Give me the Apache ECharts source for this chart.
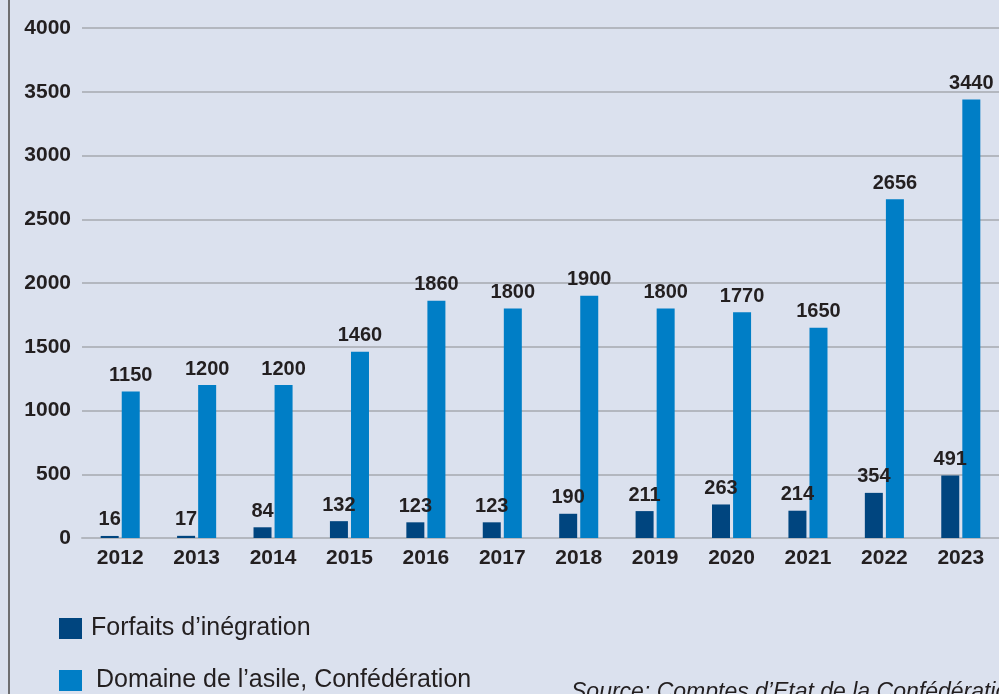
<!DOCTYPE html>
<html>
<head>
<meta charset="utf-8">
<script src="https://cdn.jsdelivr.net/npm/echarts@6/dist/echarts.min.js"></script>
<style>
  html, body { margin: 0; padding: 0; background: #dbe1ee; }
  #chart { width: 999px; height: 694px; }
</style>
</head>
<body>
<div id="chart"></div>
<script>
// données
const years = ['2012', '2013', '2014', '2015', '2016', '2017', '2018', '2019', '2020', '2021', '2022', '2023']
const forfaits = [16, 17, 84, 132, 123, 123, 190, 211, 263, 214, 354, 491]
const asile = [1150, 1200, 1200, 1460, 1860, 1800, 1900, 1800, 1770, 1650, 2656, 3440]
const forfaitsName = 'Forfaits d’inégration'
const asileName = 'Domaine de l’asile, Confédération'
const sourceText = 'Source: Comptes d’Etat de la Confédération'

const font = 'Liberation Sans, Arial, Helvetica, sans-serif'
const ink = '#231f20'

const chart = echarts.init(document.getElementById('chart'))

const labelStyle = {
  show: true,
  position: 'top',
  distance: 6,
  color: ink,
  fontFamily: font,
  fontWeight: 'bold',
  fontSize: 20,
}

// une légende par ligne
function legendRow(name, top, textPad) {
  return {
    left: 59,
    top: top,
    padding: 0,
    itemWidth: 23,
    itemHeight: 21,
    icon: 'rect',
    textStyle: { color: ink, fontFamily: font, fontSize: 25, lineHeight: 21, padding: [0, 0, 0, textPad] },
    data: [name],
  }
}

chart.setOption({
  backgroundColor: '#dbe1ee',
  animation: false,
  grid: { left: 82, right: -1, top: 28, bottom: 156 },
  legend: [
    legendRow(forfaitsName, 616, 4),
    legendRow(asileName, 668, 9),
  ],
  xAxis: {
    type: 'category',
    data: years,
    axisLine: { lineStyle: { color: '#b3b7bf', width: 2 } },
    axisTick: { show: false },
    axisLabel: { color: ink, fontFamily: font, fontWeight: 'bold', fontSize: 21, margin: 10 },
  },
  yAxis: {
    type: 'value',
    min: 0,
    max: 4000,
    interval: 500,
    axisLine: { show: false },
    axisTick: { show: false },
    axisLabel: {
      color: ink, fontFamily: font, fontWeight: 'bold', fontSize: 21, margin: 11,
      formatter: (v) => String(v),
    },
    splitLine: { lineStyle: { color: '#b3b7bf', width: 2 } },
  },
  series: [
    {
      type: 'bar',
      name: forfaitsName,
      data: forfaits,
      barWidth: 18,
      barGap: '17%',
      itemStyle: { color: '#00457f' },
      label: labelStyle,
    },
    {
      type: 'bar',
      name: asileName,
      data: asile,
      barWidth: 18,
      itemStyle: { color: '#007ec6' },
      label: labelStyle,
    },
  ],
  graphic: [
    {
      type: 'line',
      shape: { x1: 9, y1: 0, x2: 9, y2: 694 },
      style: { stroke: '#6e6e70', lineWidth: 2 },
    },
    {
      type: 'text',
      left: 571,
      top: 681,
      style: {
        text: sourceText,
        fill: ink,
        font: 'italic 23px ' + font,
      },
    },
  ],
})
</script>
</body>
</html>
